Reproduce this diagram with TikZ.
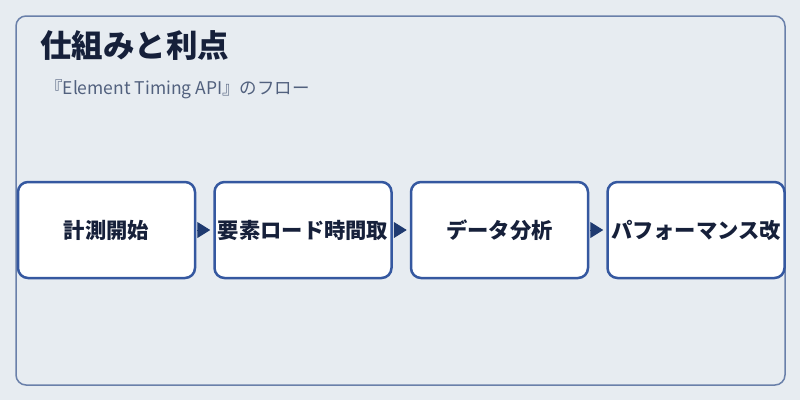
\documentclass[tikz,border=0pt]{standalone}
\usepackage{fontspec}
\usepackage{xcolor}
\usetikzlibrary{positioning,arrows.meta}
\newfontfamily\jpfont{Noto Sans CJK JP}
\definecolor{pagebg}{HTML}{E7ECF1}
\definecolor{framecol}{HTML}{6A80AA}
\definecolor{boxcol}{HTML}{3558A0}
\definecolor{arrowcol}{HTML}{1F3A70}
\definecolor{titlecol}{HTML}{16203A}
\definecolor{subcol}{HTML}{52617E}
\tikzset{
    outer-frame/.style = {draw=framecol, line width=1.5pt, rounded corners=10pt},
    flow-box/.style = {draw=boxcol, fill=white, line width=2.5pt, rectangle, rounded corners=10pt,
        minimum width=177pt, minimum height=96pt, inner sep=0pt,
        font=\jpfont\bfseries\fontsize{21.3}{25}\selectfont, text=titlecol},
    flow-arrow/.style = {draw=arrowcol, line width=1pt, -{Triangle[length=13pt,width=16pt]},
        shorten <=1pt, shorten >=3pt},
}
\begin{document}
\begin{tikzpicture}[x=1pt,y=-1pt]
\fill[pagebg] (0,0) rectangle (800,400);
\useasboundingbox (0,0) rectangle (800,400);
\draw[outer-frame] (16,16) rectangle (785,385);
% title
\node[anchor=west, inner sep=0pt, text=titlecol, font=\jpfont\bfseries\fontsize{31.5}{36}\selectfont] (title) at (40,46) {仕組みと利点};
\node[anchor=west, inner sep=0pt, text=subcol, font=\jpfont\fontsize{17.5}{21}\selectfont] (subtitle) at (45,89) {『Element Timing API』のフロー};
% steps
\node[flow-box] (start) at (106.5,230) {計測開始};
\node[flow-box, right=17pt of start] (load) {要素ロード時間取};
\node[flow-box, right=17pt of load] (analysis) {データ分析};
\node[flow-box, right=17pt of analysis] (improve) {パフォーマンス改};
\draw[flow-arrow] (start) -- (load);
\draw[flow-arrow] (load) -- (analysis);
\draw[flow-arrow] (analysis) -- (improve);
\end{tikzpicture}
\end{document}
